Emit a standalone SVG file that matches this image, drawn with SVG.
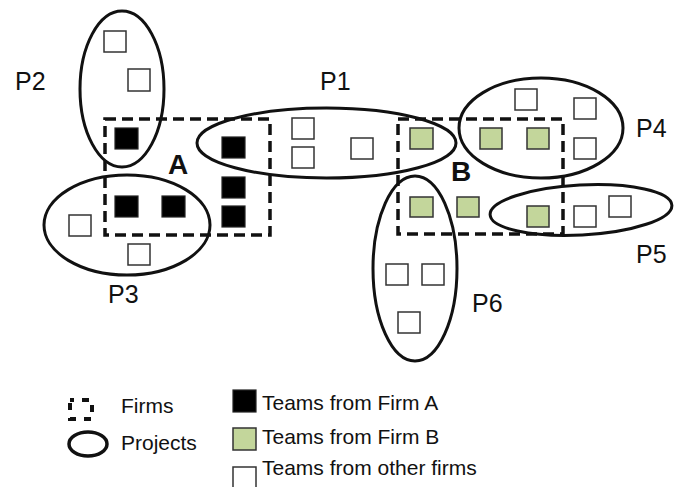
<svg xmlns="http://www.w3.org/2000/svg" width="684" height="487" viewBox="0 0 684 487">
<style>
.firm{fill:none;stroke:#111;stroke-width:3.5;stroke-dasharray:11 6}
.proj{fill:none;stroke:#111;stroke-width:3}
.ta{fill:#000;stroke:#222;stroke-width:1.2}
.tb{fill:#c3d69b;stroke:#333;stroke-width:1.5}
.to{fill:#fff;stroke:#333;stroke-width:1.5}
.lbl{font-family:"Liberation Sans",Arial,sans-serif;font-size:25px;fill:#111}
.big{font-family:"Liberation Sans",Arial,sans-serif;font-size:28px;font-weight:bold;fill:#111}
.leg{font-family:"Liberation Sans",Arial,sans-serif;font-size:21px;fill:#111}
</style>
<rect width="684" height="487" fill="#fff"/>
<g id="firmA"><rect class="firm" x="105" y="119" width="165" height="116"/><text class="big" x="168" y="174">A</text></g>
<g id="firmB"><rect class="firm" x="398" y="119" width="165" height="115"/><text class="big" x="451" y="181">B</text></g>
<g id="teamsA">
<rect class="ta" x="115" y="128" width="23" height="21"/>
<rect class="ta" x="222" y="137" width="23" height="21"/>
<rect class="ta" x="222" y="177" width="23" height="21"/>
<rect class="ta" x="222" y="206" width="23" height="21"/>
<rect class="ta" x="115" y="196" width="23" height="21"/>
<rect class="ta" x="162" y="196" width="23" height="21"/>
</g>
<g id="teamsB">
<rect class="tb" x="410" y="128" width="23" height="21"/>
<rect class="tb" x="480" y="128" width="22" height="21"/>
<rect class="tb" x="527" y="128" width="22" height="21"/>
<rect class="tb" x="410" y="197" width="23" height="20"/>
<rect class="tb" x="457" y="197" width="22" height="20"/>
<rect class="tb" x="527" y="206" width="22" height="21"/>
</g>
<g id="teamsOther">
<rect class="to" x="104" y="31" width="22" height="21"/>
<rect class="to" x="128" y="69" width="22" height="22"/>
<rect class="to" x="69" y="215" width="22" height="21"/>
<rect class="to" x="128" y="244" width="22" height="21"/>
<rect class="to" x="292" y="118" width="22" height="21"/>
<rect class="to" x="292" y="147" width="22" height="21"/>
<rect class="to" x="351" y="138" width="22" height="21"/>
<rect class="to" x="515" y="89" width="22" height="21"/>
<rect class="to" x="574" y="98" width="22" height="21"/>
<rect class="to" x="574" y="138" width="22" height="21"/>
<rect class="to" x="574" y="206" width="22" height="21"/>
<rect class="to" x="609" y="196" width="22" height="21"/>
<rect class="to" x="386" y="264" width="22" height="21"/>
<rect class="to" x="422" y="264" width="22" height="21"/>
<rect class="to" x="398" y="312" width="22" height="21"/>
</g>
<g id="P1"><ellipse class="proj" cx="326.5" cy="143" rx="129.5" ry="35"/><text class="lbl" x="320" y="90">P1</text></g>
<g id="P2"><ellipse class="proj" cx="122" cy="89" rx="42" ry="78"/><text class="lbl" x="15" y="90">P2</text></g>
<g id="P3"><ellipse class="proj" cx="127" cy="225" rx="83" ry="50"/><text class="lbl" x="108" y="303">P3</text></g>
<g id="P4"><ellipse class="proj" cx="541" cy="128" rx="82" ry="50"/><text class="lbl" x="636" y="137">P4</text></g>
<g id="P5"><ellipse class="proj" cx="581" cy="210" rx="91" ry="25" transform="rotate(-3 581 210)"/><text class="lbl" x="636" y="263">P5</text></g>
<g id="P6"><ellipse class="proj" cx="415" cy="268.5" rx="42" ry="92.5"/><text class="lbl" x="472" y="312">P6</text></g>
<g id="connectors"></g>
<g id="legend">
<rect x="70" y="400" width="22" height="19" fill="none" stroke="#111" stroke-width="4" stroke-dasharray="7 8" stroke-dashoffset="3"/>
<text class="leg" x="121" y="413">Firms</text>
<ellipse cx="88" cy="444" rx="19" ry="12" fill="none" stroke="#111" stroke-width="3.5"/>
<text class="leg" x="121" y="450">Projects</text>
<rect class="ta" x="233" y="390" width="23" height="22"/>
<text class="leg" x="262" y="410">Teams from Firm A</text>
<rect class="tb" x="233" y="428" width="23" height="22"/>
<text class="leg" x="262" y="444">Teams from Firm B</text>
<rect class="to" x="233" y="467" width="23" height="22"/>
<text class="leg" x="262" y="475">Teams from other firms</text>
</g>
</svg>
